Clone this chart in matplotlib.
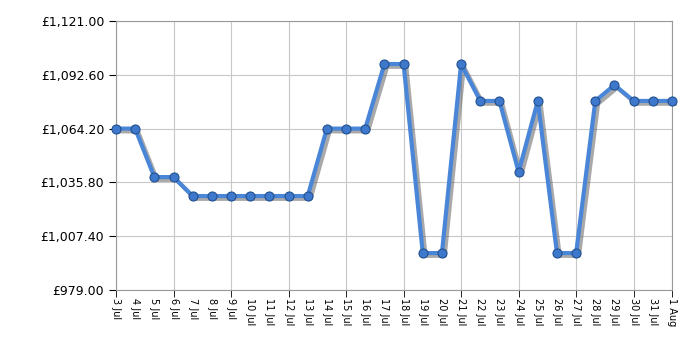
import numpy as np
import matplotlib
matplotlib.use("Agg")
import matplotlib.pyplot as plt
import matplotlib.patheffects as pe
from matplotlib.ticker import FixedLocator, FuncFormatter

# fechas y precios
dias = [f"{d} Jul" for d in range(3, 32)] + ["1 Aug"]
precios = [1064.2, 1064.2, 1038.6, 1038.6, 1028.6, 1028.6, 1028.6, 1028.6, 1028.6,
           1028.6, 1028.6, 1064.2, 1064.2, 1064.2, 1098.3, 1098.3, 998.5, 998.5,
           1098.3, 1078.8, 1078.8, 1041.3, 1078.8, 998.5, 998.5, 1078.8, 1087.2,
           1078.8, 1078.8, 1078.8]
y_ticks = [979.0, 1007.4, 1035.8, 1064.2, 1092.6, 1121.0]

x = np.arange(len(dias))

fig = plt.figure(figsize=(7, 3.5), dpi=100)
ax = fig.add_axes([116/700, 60/350, 556/700, 269/350])

ax.plot(x, precios, color="#4a86d8", lw=3, zorder=3, clip_on=False,
        path_effects=[pe.SimpleLineShadow(offset=(2, -2), shadow_color="#555555", alpha=0.5),
                      pe.Normal()])
ax.plot(x, precios, ls="none", marker="o", ms=6.5, zorder=4, clip_on=False,
        markerfacecolor="#3d78cc", markeredgecolor="#22508f", markeredgewidth=0.8)

ax.set_xlim(0, len(dias) - 1)
ax.set_ylim(979, 1121)

ax.set_yticks(y_ticks)
ax.yaxis.set_major_formatter(FuncFormatter(lambda v, p: f"£{v:,.2f}"))
ax.tick_params(axis="y", labelsize=9, length=5, color="black")

# etiqueta cada dia, grid cada 3 dias
ax.xaxis.remove_overlapping_locs = False
ax.set_xticks(x)
ax.set_xticklabels(dias, rotation=-90, fontsize=7)
ax.tick_params(axis="x", which="major", length=0, pad=6)
menores = list(range(0, len(dias) - 1, 3)) + [len(dias) - 1]
ax.xaxis.set_minor_locator(FixedLocator(menores))
ax.tick_params(axis="x", which="minor", length=5, color="black")

ax.grid(True, axis="y", color="#c8c8c8", lw=0.8)
ax.grid(True, axis="x", which="minor", color="#c8c8c8", lw=0.8)
for s in ax.spines.values():
    s.set_color("#999999")

fig.savefig("out.png", dpi=100)
